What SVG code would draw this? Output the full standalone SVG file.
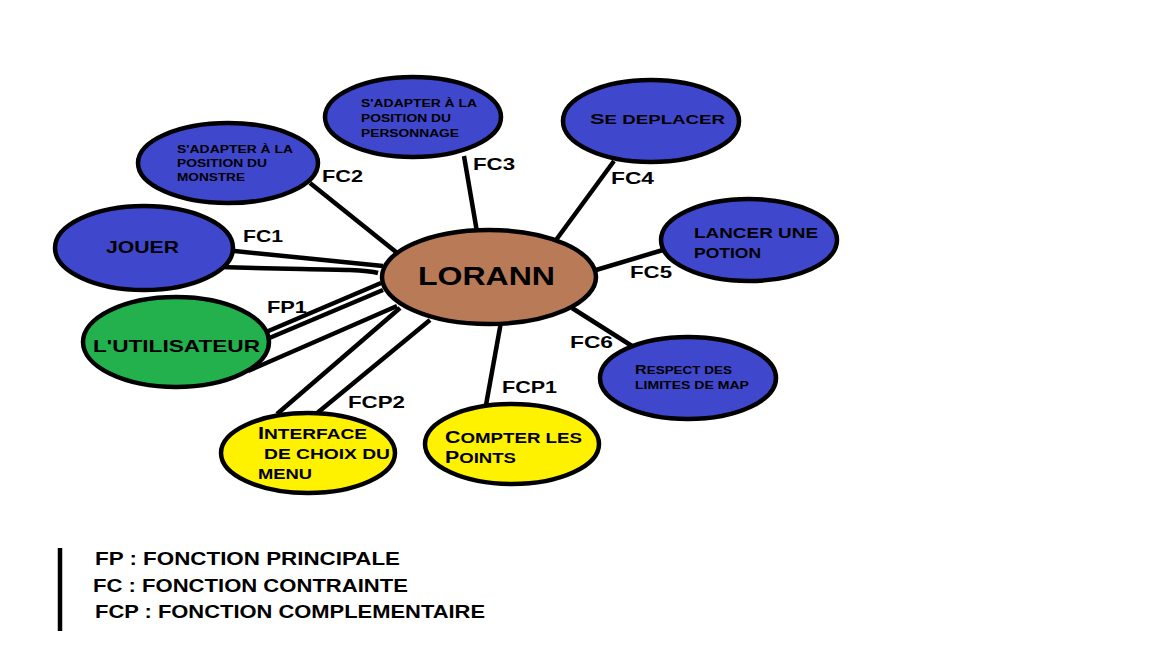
<svg xmlns="http://www.w3.org/2000/svg" width="1152" height="648" viewBox="0 0 1152 648">
<style>
.n{stroke:#000;stroke-width:4.5}
.b{fill:#3F48CC}
.g{fill:#22B14C}
.y{fill:#FFF200}
.o{fill:#B97A57}
.c{stroke:#000;stroke-width:4.5;fill:none;stroke-linecap:butt}
text{font-family:"Liberation Sans",Arial,sans-serif;font-weight:bold;fill:#000}
.l{font-size:17px}
.s{font-size:10px}
.m{font-size:12px}
.k{font-size:14px}
</style>
<rect width="1152" height="648" fill="#fff"/>
<g id="connectors">
<line class="c" x1="310" y1="183" x2="396" y2="252"/>
<line class="c" x1="464" y1="156" x2="477" y2="232"/>
<line class="c" x1="614" y1="161" x2="556" y2="240"/>
<line class="c" x1="663" y1="250" x2="596" y2="270"/>
<line class="c" x1="572" y1="308" x2="632" y2="346"/>
<line class="c" x1="501" y1="322" x2="486" y2="405"/>
<line class="c" x1="277" y1="414" x2="400" y2="308"/>
<line class="c" x1="316" y1="414" x2="430" y2="320"/>
<line class="c" x1="225" y1="250" x2="383" y2="266"/>
<path class="c" d="M220,267 C300,270 360,268 378,273"/>
<line class="c" x1="266" y1="332" x2="381" y2="283"/>
<line class="c" x1="267" y1="339" x2="383" y2="290"/>
<line class="c" x1="248" y1="371" x2="397" y2="306"/>
</g>
<g id="fc1"><ellipse class="n b" cx="144" cy="248" rx="89" ry="42"/><text class="l" x="106" y="253" textLength="73" lengthAdjust="spacingAndGlyphs">JOUER</text></g>
<g id="utilisateur"><ellipse class="n g" cx="176" cy="342" rx="93" ry="45"/><text class="l" x="93" y="352" textLength="167" lengthAdjust="spacingAndGlyphs">L'UTILISATEUR</text></g>
<g id="fc2"><ellipse class="n b" cx="228" cy="163" rx="90" ry="40"/>
<text class="s" x="177" y="153" textLength="116" lengthAdjust="spacingAndGlyphs">S'ADAPTER À LA</text>
<text class="s" x="177" y="167" textLength="90" lengthAdjust="spacingAndGlyphs">POSITION DU</text>
<text class="s" x="177" y="181" textLength="68" lengthAdjust="spacingAndGlyphs">MONSTRE</text></g>
<g id="fc3"><ellipse class="n b" cx="413" cy="117" rx="88" ry="40"/>
<text class="s" x="361" y="107" textLength="116" lengthAdjust="spacingAndGlyphs">S'ADAPTER À LA</text>
<text class="s" x="361" y="122" textLength="90" lengthAdjust="spacingAndGlyphs">POSITION DU</text>
<text class="s" x="361" y="137" textLength="98" lengthAdjust="spacingAndGlyphs">PERSONNAGE</text></g>
<g id="fc4"><ellipse class="n b" cx="651" cy="121" rx="88" ry="41"/>
<text x="590" y="124" textLength="135" lengthAdjust="spacingAndGlyphs"><tspan class="k" font-size="15">S</tspan><tspan class="m">E DEPLACER</tspan></text></g>
<g id="fc5"><ellipse class="n b" cx="749" cy="240" rx="88" ry="41"/>
<text class="k" x="694" y="238" textLength="124" lengthAdjust="spacingAndGlyphs">LANCER UNE</text>
<text class="k" x="694" y="258" textLength="67" lengthAdjust="spacingAndGlyphs">POTION</text></g>
<g id="fc6"><ellipse class="n b" cx="688" cy="378" rx="88" ry="41"/>
<text x="635" y="374" textLength="97" lengthAdjust="spacingAndGlyphs"><tspan font-size="12">R</tspan><tspan class="s">ESPECT DES</tspan></text>
<text class="s" x="635" y="389" textLength="114" lengthAdjust="spacingAndGlyphs">LIMITES DE MAP</text></g>
<g id="fcp1"><ellipse class="n y" cx="512" cy="444" rx="87" ry="40"/>
<text x="445" y="443" textLength="137" lengthAdjust="spacingAndGlyphs"><tspan font-size="16">C</tspan><tspan class="k">OMPTER LES</tspan></text>
<text x="445" y="463" textLength="71" lengthAdjust="spacingAndGlyphs"><tspan font-size="16">P</tspan><tspan class="k">OINTS</tspan></text></g>
<g id="fcp2"><ellipse class="n y" cx="308" cy="453" rx="87" ry="40"/>
<text x="258" y="439" textLength="109" lengthAdjust="spacingAndGlyphs"><tspan font-size="16">I</tspan><tspan class="k">NTERFACE</tspan></text>
<text class="k" x="264" y="459" textLength="126" lengthAdjust="spacingAndGlyphs">DE CHOIX DU</text>
<text class="k" x="258" y="479" textLength="54" lengthAdjust="spacingAndGlyphs">MENU</text></g>
<g id="lorann"><ellipse class="n o" cx="489" cy="277" rx="107" ry="47"/><text x="418" y="285" font-size="25" textLength="137" lengthAdjust="spacingAndGlyphs">LORANN</text></g>
<g id="labels" class="l">
<text class="l" x="243" y="242" textLength="40" lengthAdjust="spacingAndGlyphs">FC1</text>
<text class="l" x="267" y="313" textLength="40" lengthAdjust="spacingAndGlyphs">FP1</text>
<text class="l" x="322" y="182" textLength="41" lengthAdjust="spacingAndGlyphs">FC2</text>
<text class="l" x="473" y="170" textLength="42" lengthAdjust="spacingAndGlyphs">FC3</text>
<text class="l" x="611" y="184" textLength="43" lengthAdjust="spacingAndGlyphs">FC4</text>
<text class="l" x="630" y="278" textLength="42" lengthAdjust="spacingAndGlyphs">FC5</text>
<text class="l" x="570" y="348" textLength="43" lengthAdjust="spacingAndGlyphs">FC6</text>
<text class="l" x="502" y="393" textLength="55" lengthAdjust="spacingAndGlyphs">FCP1</text>
<text class="l" x="348" y="408" textLength="57" lengthAdjust="spacingAndGlyphs">FCP2</text>
</g>
<g id="legend">
<line x1="60" y1="548" x2="60" y2="631" stroke="#000" stroke-width="4.5"/>
<text x="95" y="565" font-size="18" textLength="305" lengthAdjust="spacingAndGlyphs">FP : FONCTION PRINCIPALE</text>
<text x="93" y="592" font-size="18" textLength="315" lengthAdjust="spacingAndGlyphs">FC : FONCTION CONTRAINTE</text>
<text x="95" y="618" font-size="18" textLength="390" lengthAdjust="spacingAndGlyphs">FCP : FONCTION COMPLEMENTAIRE</text>
</g>
</svg>
